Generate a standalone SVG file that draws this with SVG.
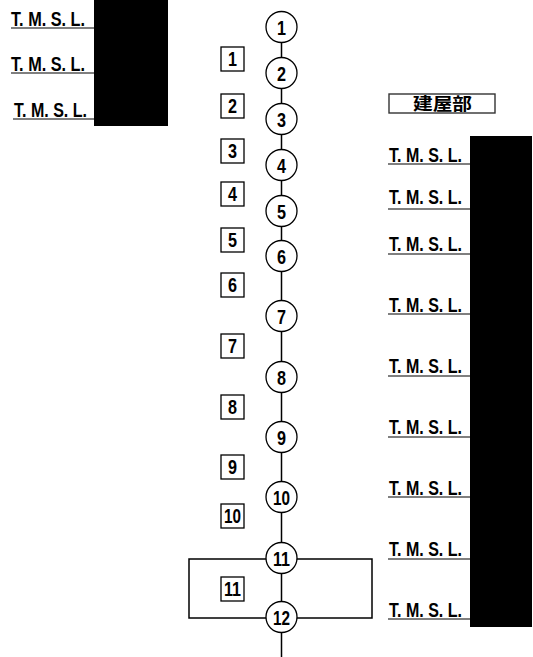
<svg xmlns="http://www.w3.org/2000/svg" width="533" height="657" viewBox="0 0 533 657">
<style>
.t{font-family:"Liberation Sans","Noto Sans CJK JP",sans-serif;font-weight:bold;fill:#000}
.lbl{font-size:21px}
.num{font-size:21px}
.ul{stroke:#555;stroke-width:1.6}
.c{fill:#fff;stroke:#000;stroke-width:1.3}
.b{fill:#fff;stroke:#000;stroke-width:1.3}
.ln{stroke:#000;stroke-width:1.5;fill:none}
</style>
<rect x="0" y="0" width="533" height="657" fill="#fff"/>
<rect x="94" y="0" width="74" height="126" fill="#000"/>
<rect x="470" y="136" width="62" height="491" fill="#000"/>
<g id="connectors">
<line class="ln" x1="281.5" y1="42" x2="281.5" y2="657"/>
<rect class="ln" x="189" y="559" width="183" height="59"/>
</g>
<g id="n1"><circle class="c" cx="281.5" cy="27" r="15.5"/><text class="t num" x="277" y="34.5" textLength="9" lengthAdjust="spacingAndGlyphs">1</text></g>
<g id="n2"><circle class="c" cx="281.5" cy="73" r="15.5"/><text class="t num" x="277" y="80.5" textLength="9" lengthAdjust="spacingAndGlyphs">2</text></g>
<g id="n3"><circle class="c" cx="281.5" cy="119" r="15.5"/><text class="t num" x="277" y="126.5" textLength="9" lengthAdjust="spacingAndGlyphs">3</text></g>
<g id="n4"><circle class="c" cx="281.5" cy="165" r="15.5"/><text class="t num" x="277" y="172.5" textLength="9" lengthAdjust="spacingAndGlyphs">4</text></g>
<g id="n5"><circle class="c" cx="281.5" cy="211" r="15.5"/><text class="t num" x="277" y="218.5" textLength="9" lengthAdjust="spacingAndGlyphs">5</text></g>
<g id="n6"><circle class="c" cx="281.5" cy="256" r="15.5"/><text class="t num" x="277" y="263.5" textLength="9" lengthAdjust="spacingAndGlyphs">6</text></g>
<g id="n7"><circle class="c" cx="281.5" cy="316" r="15.5"/><text class="t num" x="277" y="323.5" textLength="9" lengthAdjust="spacingAndGlyphs">7</text></g>
<g id="n8"><circle class="c" cx="281.5" cy="377" r="15.5"/><text class="t num" x="277" y="384.5" textLength="9" lengthAdjust="spacingAndGlyphs">8</text></g>
<g id="n9"><circle class="c" cx="281.5" cy="437" r="15.5"/><text class="t num" x="277" y="444.5" textLength="9" lengthAdjust="spacingAndGlyphs">9</text></g>
<g id="n10"><circle class="c" cx="281.5" cy="497" r="15.5"/><text class="t num" x="273" y="504.5" textLength="17" lengthAdjust="spacingAndGlyphs">10</text></g>
<g id="n11"><circle class="c" cx="281.5" cy="558" r="15.5"/><text class="t num" x="273" y="565.5" textLength="17" lengthAdjust="spacingAndGlyphs">11</text></g>
<g id="n12"><circle class="c" cx="281.5" cy="617" r="15.5"/><text class="t num" x="273" y="624.5" textLength="17" lengthAdjust="spacingAndGlyphs">12</text></g>
<g id="s1"><rect class="b" x="221" y="47" width="23" height="24"/><text class="t num" x="228" y="66" textLength="9" lengthAdjust="spacingAndGlyphs">1</text></g>
<g id="s2"><rect class="b" x="221" y="94" width="23" height="24"/><text class="t num" x="228" y="113" textLength="9" lengthAdjust="spacingAndGlyphs">2</text></g>
<g id="s3"><rect class="b" x="221" y="139" width="23" height="24"/><text class="t num" x="228" y="158" textLength="9" lengthAdjust="spacingAndGlyphs">3</text></g>
<g id="s4"><rect class="b" x="221" y="182" width="23" height="24"/><text class="t num" x="228" y="201" textLength="9" lengthAdjust="spacingAndGlyphs">4</text></g>
<g id="s5"><rect class="b" x="221" y="228" width="23" height="24"/><text class="t num" x="228" y="247" textLength="9" lengthAdjust="spacingAndGlyphs">5</text></g>
<g id="s6"><rect class="b" x="221" y="273" width="23" height="24"/><text class="t num" x="228" y="292" textLength="9" lengthAdjust="spacingAndGlyphs">6</text></g>
<g id="s7"><rect class="b" x="221" y="334" width="23" height="24"/><text class="t num" x="228" y="353" textLength="9" lengthAdjust="spacingAndGlyphs">7</text></g>
<g id="s8"><rect class="b" x="221" y="395" width="23" height="24"/><text class="t num" x="228" y="414" textLength="9" lengthAdjust="spacingAndGlyphs">8</text></g>
<g id="s9"><rect class="b" x="221" y="455" width="23" height="24"/><text class="t num" x="228" y="474" textLength="9" lengthAdjust="spacingAndGlyphs">9</text></g>
<g id="s10"><rect class="b" x="221" y="504" width="23" height="24"/><text class="t num" x="224" y="523" textLength="17" lengthAdjust="spacingAndGlyphs">10</text></g>
<g id="s11"><rect class="b" x="221" y="577" width="23" height="24"/><text class="t num" x="224" y="596" textLength="17" lengthAdjust="spacingAndGlyphs">11</text></g>
<g id="L1"><text class="t lbl" x="11" y="26" textLength="74" lengthAdjust="spacingAndGlyphs">T. M. S. L.</text><line class="ul" x1="11" y1="28" x2="94" y2="28"/></g>
<g id="L2"><text class="t lbl" x="11" y="71" textLength="74" lengthAdjust="spacingAndGlyphs">T. M. S. L.</text><line class="ul" x1="11" y1="73" x2="94" y2="73"/></g>
<g id="L3"><text class="t lbl" x="14" y="117" textLength="73" lengthAdjust="spacingAndGlyphs">T. M. S. L.</text><line class="ul" x1="13" y1="119" x2="94" y2="119"/></g>
<g id="bld"><rect x="389" y="94" width="106" height="19" fill="#fff" stroke="#333" stroke-width="1.4"/><text class="t" x="413" y="110" font-size="17" textLength="59" lengthAdjust="spacingAndGlyphs">建屋部</text></g>
<g id="R1"><text class="t lbl" x="389" y="162" textLength="73" lengthAdjust="spacingAndGlyphs">T. M. S. L.</text><line class="ul" x1="388" y1="164" x2="470" y2="164"/></g>
<g id="R2"><text class="t lbl" x="389" y="204" textLength="73" lengthAdjust="spacingAndGlyphs">T. M. S. L.</text><line class="ul" x1="388" y1="209" x2="470" y2="209"/></g>
<g id="R3"><text class="t lbl" x="389" y="251" textLength="73" lengthAdjust="spacingAndGlyphs">T. M. S. L.</text><line class="ul" x1="388" y1="254" x2="470" y2="254"/></g>
<g id="R4"><text class="t lbl" x="389" y="312" textLength="73" lengthAdjust="spacingAndGlyphs">T. M. S. L.</text><line class="ul" x1="388" y1="314" x2="470" y2="314"/></g>
<g id="R5"><text class="t lbl" x="389" y="373" textLength="73" lengthAdjust="spacingAndGlyphs">T. M. S. L.</text><line class="ul" x1="388" y1="376" x2="470" y2="376"/></g>
<g id="R6"><text class="t lbl" x="389" y="434" textLength="73" lengthAdjust="spacingAndGlyphs">T. M. S. L.</text><line class="ul" x1="388" y1="437" x2="470" y2="437"/></g>
<g id="R7"><text class="t lbl" x="389" y="495" textLength="73" lengthAdjust="spacingAndGlyphs">T. M. S. L.</text><line class="ul" x1="388" y1="497" x2="470" y2="497"/></g>
<g id="R8"><text class="t lbl" x="389" y="556" textLength="73" lengthAdjust="spacingAndGlyphs">T. M. S. L.</text><line class="ul" x1="388" y1="559" x2="470" y2="559"/></g>
<g id="R9"><text class="t lbl" x="389" y="617" textLength="73" lengthAdjust="spacingAndGlyphs">T. M. S. L.</text><line class="ul" x1="388" y1="619" x2="470" y2="619"/></g>
</svg>
